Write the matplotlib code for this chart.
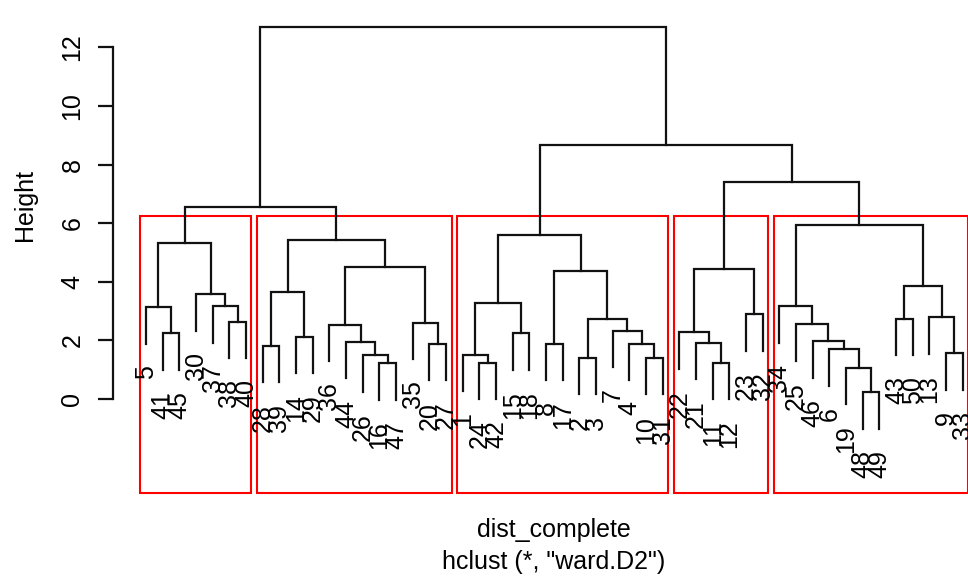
import matplotlib
matplotlib.use("Agg")
import matplotlib.pyplot as plt
from matplotlib.patches import Rectangle

plt.rcParams['font.family'] = ['Liberation Sans', 'DejaVu Sans']

# hclust merge table, R style: negative = leaf label, positive = earlier merge (1-based)
merge_left = [-48, -19, -16, -24, -11, -2, -10, -26, -1, -9,
              -6, -28, -20, -8, -4, -21, -44, -46, -14, -41,
              -15, -22, -7, -36, -25, -35, -38, -43, 6, -13,
              -23, -5, -34, -37, 9, -30, 12, 28, 14, 22,
              24, 32, 37, 35, 33, 42, 40, 44, 46]
merge_right = [-49, 1, -47, -42, -12, -3, -31, 3, 4, -33,
               2, -39, -27, -17, 7, 5, 8, 11, -29, -45,
               -18, 16, 15, 17, 18, 13, -40, -50, 23, 10,
               -32, 20, 25, 27, 21, 34, 19, 30, 29, 31,
               26, 36, 41, 39, 38, 43, 45, 47, 48]
merge_height = [0.23, 1.07, 1.22, 1.24, 1.24, 1.40, 1.40, 1.50, 1.51, 1.56,
                1.69, 1.81, 1.88, 1.89, 1.89, 1.92, 1.95, 1.97, 2.13, 2.24,
                2.24, 2.27, 2.33, 2.53, 2.55, 2.60, 2.64, 2.74, 2.74, 2.78,
                2.90, 3.13, 3.16, 3.17, 3.28, 3.57, 3.64, 3.84, 4.35, 4.45,
                4.50, 5.31, 5.42, 5.59, 5.93, 6.56, 7.41, 8.68, 12.70]

k_clusters = 5
hang = 0.1
title = "dist_complete"
subtitle = 'hclust (*, "ward.D2")'
fs = 18

n_merge = len(merge_height)
hang_len = hang * (max(merge_height) - min(merge_height))

# leaf order from the tree
order = []
def walk(node):
    if node < 0:
        order.append(-node)
    else:
        walk(merge_left[node - 1])
        walk(merge_right[node - 1])
walk(n_merge)
leaf_pos = {lab: i + 1 for i, lab in enumerate(order)}

node_x = {}
def xpos(node):
    if node < 0:
        return leaf_pos[-node]
    if node not in node_x:
        node_x[node] = (xpos(merge_left[node - 1]) + xpos(merge_right[node - 1])) / 2
    return node_x[node]

fig = plt.figure(figsize=(9.68, 5.76), dpi=100)
ax = fig.add_axes([113.3 / 968, 83 / 576, 882.1 / 968, 486.7 / 576])
ax.set_xlim(-0.96, 51.96)
ax.set_ylim(-3.21, 13.4)

leaf_bottoms = {}
for i in range(n_merge):
    h = merge_height[i]
    ends = []
    for child in (merge_left[i], merge_right[i]):
        if child < 0:
            yb = h - hang_len
            leaf_bottoms[-child] = yb
        else:
            yb = merge_height[child - 1]
        ends.append((xpos(child), yb))
    (xl, yl), (xr, yr) = ends
    ax.plot([xl, xl, xr, xr], [yl, h, h, yr], color='#111111', lw=1.6,
            solid_joinstyle='miter', clip_on=False)

for lab in order:
    ax.annotate(str(lab), (leaf_pos[lab], leaf_bottoms[lab]), xytext=(0, -0.85 * fs),
                textcoords='offset points', rotation=90, ha='center', va='top',
                fontsize=fs, annotation_clip=False)

# rect.hclust: split the highest node until k groups
groups = [n_merge]
while len(groups) < k_clusters:
    top = max([g for g in groups if g > 0], key=lambda g: merge_height[g - 1])
    idx = groups.index(top)
    groups[idx:idx + 1] = [merge_left[top - 1], merge_right[top - 1]]

def leaves_of(node):
    if node < 0:
        return [-node]
    return leaves_of(merge_left[node - 1]) + leaves_of(merge_right[node - 1])

sorted_h = sorted(merge_height, reverse=True)
rect_top = (sorted_h[k_clusters - 2] + sorted_h[k_clusters - 1]) / 2
ybot = ax.get_ylim()[0]
for g in groups:
    pos = [leaf_pos[l] for l in leaves_of(g)]
    x0 = min(pos) - 0.34
    x1 = max(pos) + 0.33
    ax.add_patch(Rectangle((x0, ybot), x1 - x0, rect_top - ybot, fill=False,
                           edgecolor='red', lw=1.5, clip_on=False))

for s in ['top', 'right', 'bottom']:
    ax.spines[s].set_visible(False)
ax.spines['left'].set_bounds(0, 12)
ax.spines['left'].set_linewidth(1.6)
ax.spines['left'].set_color('#111111')
ax.set_xticks([])
ax.set_yticks(range(0, 13, 2))
ax.tick_params(axis='y', length=10.8, width=1.6, color='#111111', pad=10,
               labelsize=fs, labelrotation=90)
for t in ax.get_yticklabels():
    t.set_va('center')

fig.text(25 / 968, 1 - 205 / 576, "Height", rotation=90, ha='center', va='center', fontsize=fs)
fig.text(554 / 968, 1 - 537 / 576, title, ha='center', va='baseline', fontsize=fs)
fig.text(554 / 968, 1 - 569 / 576, subtitle, ha='center', va='baseline', fontsize=fs)

fig.savefig('out.png', dpi=100)
